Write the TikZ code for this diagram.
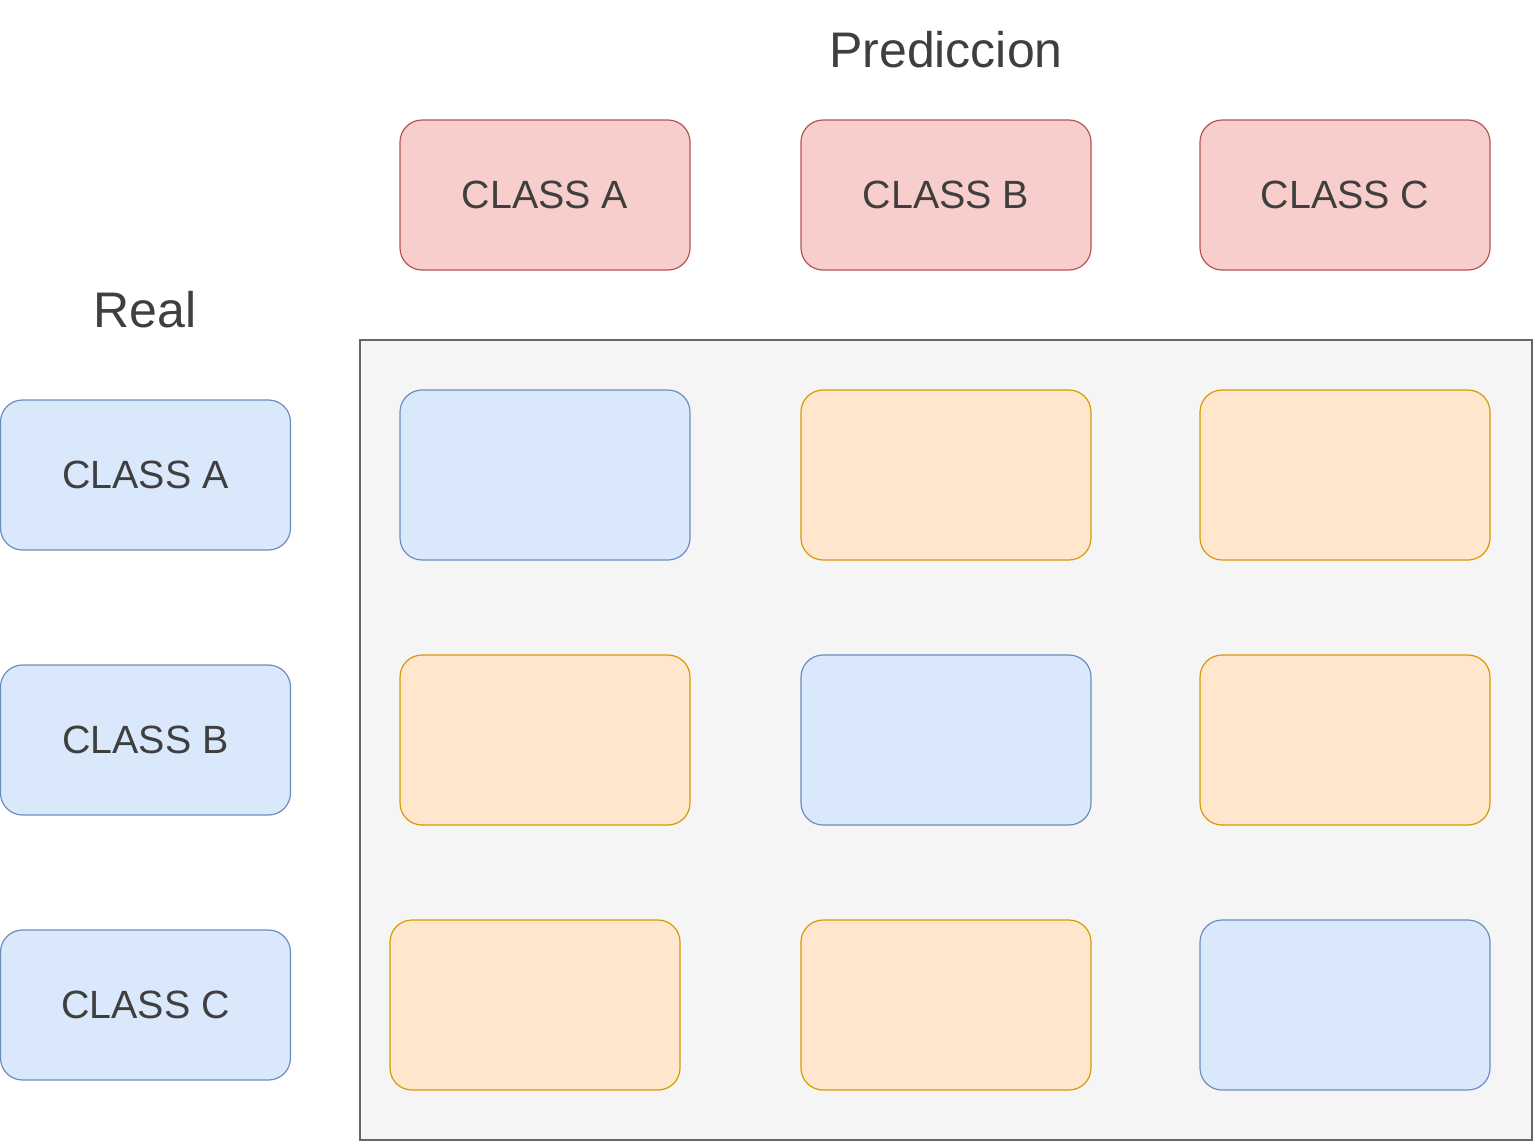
\documentclass[tikz,border=0pt]{standalone}
\usepackage{fontspec}
\setmainfont{Liberation Sans}
\definecolor{redfill}{HTML}{F8CECC}
\definecolor{redline}{HTML}{B85450}
\definecolor{bluefill}{HTML}{DAE8FC}
\definecolor{blueline}{HTML}{6C8EBF}
\definecolor{orfill}{HTML}{FFE6CC}
\definecolor{orline}{HTML}{D79B00}
\definecolor{grayfill}{HTML}{F5F5F5}
\definecolor{grayline}{HTML}{666666}
\definecolor{txt}{HTML}{3F3F3F}
\begin{document}
\begin{tikzpicture}[x=1pt,y=-1pt,
  every node/.style={text=txt, font=\fontsize{39.4}{44}\selectfont},
  boxbase/.style={rectangle, rounded corners=22pt, line width=1.2pt, minimum width=290pt, minimum height=150pt, inner sep=0pt},
  predbox/.style={boxbase, draw=redline, fill=redfill},
  realbox/.style={boxbase, draw=blueline, fill=bluefill},
  hitcell/.style={boxbase, minimum height=170pt, draw=blueline, fill=bluefill},
  misscell/.style={boxbase, minimum height=170pt, draw=orline, fill=orfill},
  title/.style={font=\fontsize{50}{56}\selectfont}]
\useasboundingbox (0,0) rectangle (1533,1141);
\node[draw=grayline, fill=grayfill, line width=1.2pt, rectangle, minimum width=1172pt, minimum height=800pt, inner sep=0pt] (grid) at (946,740) {};
\node[title] (pred) at (946,50) {Prediccion};
\node[title] (real) at (145,310) {Real};
\node[predbox] (pa) at (545,195) {CLASS A};
\node[predbox] (pb) at (946,195) {CLASS B};
\node[predbox] (pc) at (1345,195) {CLASS C};
\node[realbox] (ra) at (145.5,475) {CLASS A};
\node[realbox] (rb) at (145.5,740) {CLASS B};
\node[realbox] (rc) at (145.5,1005) {CLASS C};
\node[hitcell] (aa) at (545,475) {};
\node[misscell] (ab) at (946,475) {};
\node[misscell] (ac) at (1345,475) {};
\node[misscell] (ba) at (545,740) {};
\node[hitcell] (bb) at (946,740) {};
\node[misscell] (bc) at (1345,740) {};
\node[misscell] (ca) at (535,1005) {};
\node[misscell] (cb) at (946,1005) {};
\node[hitcell] (cc) at (1345,1005) {};
\end{tikzpicture}
\end{document}
